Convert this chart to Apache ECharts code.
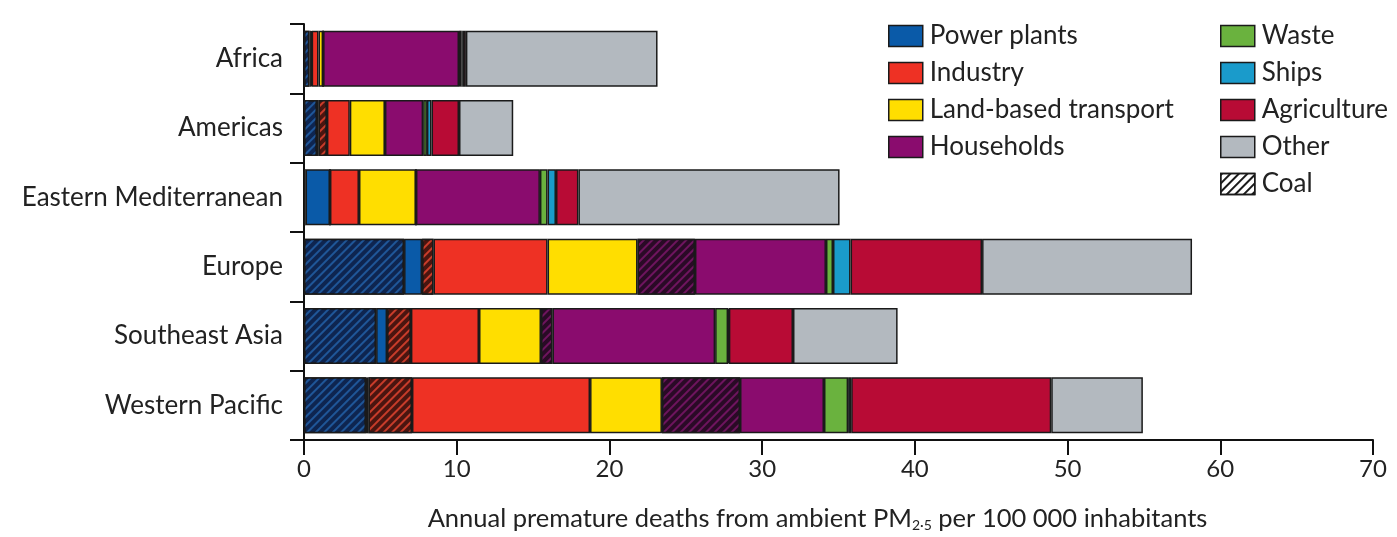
<!DOCTYPE html>
<html>
<head>
<meta charset="utf-8">
<script src="https://cdn.jsdelivr.net/npm/echarts@6/dist/echarts.min.js"></script>
<style>
html,body{margin:0;padding:0;background:#fff;}
#chart{width:1397px;height:537px;}
</style>
</head>
<body>
<div id="chart"></div>
<script>
const categories = ['Africa', 'Americas', 'Eastern Mediterranean', 'Europe', 'Southeast Asia', 'Western Pacific'];
const xTicks = [0, 10, 20, 30, 40, 50, 60, 70];
const powerCoal      = [0.35, 0.85, 0.1, 6.55, 4.72, 4.06];
const power          = [0.1, 0.1, 1.6, 1.18, 0.72, 0.16];
const industryCoal   = [0.05, 0.55, 0, 0.75, 1.56, 2.85];
const industry       = [0.45, 1.5, 1.9, 7.47, 4.46, 11.66];
const transport      = [0.3, 2.3, 3.73, 5.89, 4.06, 4.71];
const householdsCoal = [0, 0, 0, 3.76, 0.75, 5.11];
const households     = [8.9, 2.5, 8.12, 8.58, 10.65, 5.5];
const waste          = [0.15, 0.25, 0.5, 0.46, 0.85, 1.58];
const ships          = [0.1, 0.3, 0.55, 1.15, 0.05, 0.2];
const agriculture    = [0.2, 1.8, 1.47, 8.61, 4.2, 13.1];
const other          = [12.55, 3.55, 17.1, 13.75, 6.85, 6.0];

const FONT = 'Lato';
const BORDER = '#1a1a1a';

function hatch(color) {
  return {
    symbol: 'rect', symbolSize: 1,
    dashArrayX: [1, 0], dashArrayY: [1.5, 3.5],
    rotation: -Math.PI / 4, color: color
  };
}
function bar(name, data, color, decalColor) {
  const s = {
    name: name, type: 'bar', stack: 'total', data: data, barWidth: 56,
    itemStyle: { color: color, borderColor: BORDER, borderWidth: 1.5 },
    emphasis: { disabled: true }
  };
  if (decalColor) s.itemStyle.decal = hatch(decalColor);
  return s;
}

const series = [
  bar('Power plants (coal)', powerCoal, '#0e2550', '#1f5698'),
  bar('Power plants', power, '#0a5aa8'),
  bar('Industry (coal)', industryCoal, '#4a1510', '#c83c2a'),
  bar('Industry', industry, '#ee3124'),
  bar('Land-based transport', transport, '#ffde00'),
  bar('Households (coal)', householdsCoal, '#2a0a26', '#6e145e'),
  bar('Households', households, '#8a0c6e'),
  bar('Waste', waste, '#6ab23e'),
  bar('Ships', ships, '#1a9bcb'),
  bar('Agriculture', agriculture, '#b80b35'),
  bar('Other', other, '#b3b9bf'),
  bar('Coal', [], '#ffffff', '#1a1a1a')
];

const legendCommon = {
  orient: 'vertical', itemWidth: 34, itemHeight: 21, itemGap: 11,
  textStyle: { fontFamily: FONT, fontSize: 26, lineHeight: 24, color: '#222', padding: [0, 0, 0, 2] },
  itemStyle: { borderColor: BORDER, borderWidth: 1.5 },
  selectedMode: false, icon: 'rect'
};

const chart = echarts.init(document.getElementById('chart'), null, { renderer: 'canvas' });
chart.setOption({
  animation: false,
  backgroundColor: '#fff',
  grid: { left: 304, right: 24, top: 24, bottom: 97, containLabel: false },
  legend: [
    Object.assign({ left: 883, top: 18, data: ['Power plants', 'Industry', 'Land-based transport', 'Households'] }, legendCommon),
    Object.assign({ left: 1215, top: 18, data: ['Waste', 'Ships', 'Agriculture', 'Other', 'Coal'] }, legendCommon)
  ],
  xAxis: {
    type: 'value', min: xTicks[0], max: xTicks[xTicks.length - 1], interval: 10,
    axisLine: { show: true, lineStyle: { color: '#111', width: 2 } },
    axisTick: { show: true, length: 15, lineStyle: { color: '#111', width: 2 } },
    axisLabel: { fontFamily: FONT, fontSize: 24, color: '#222', margin: 17 },
    splitLine: { show: false },
    name: 'Annual premature deaths from ambient PM{sub|2·5} per 100 000 inhabitants',
    nameLocation: 'middle', nameGap: 66,
    nameTextStyle: {
      fontFamily: FONT, fontSize: 25.5, color: '#222', padding: [0, 42, 0, 0],
      rich: { sub: { fontFamily: FONT, fontSize: 14, color: '#222', verticalAlign: 'bottom', padding: [12, 0, 0, 0] } }
    }
  },
  yAxis: {
    type: 'category', data: categories, inverse: true,
    axisLine: { show: true, lineStyle: { color: '#111', width: 2 } },
    axisTick: { show: true, length: 14, lineStyle: { color: '#111', width: 2 } },
    axisLabel: { fontFamily: FONT, fontSize: 26, color: '#222', margin: 21 },
    splitLine: { show: false }
  },
  series: series
});
</script>
</body>
</html>
